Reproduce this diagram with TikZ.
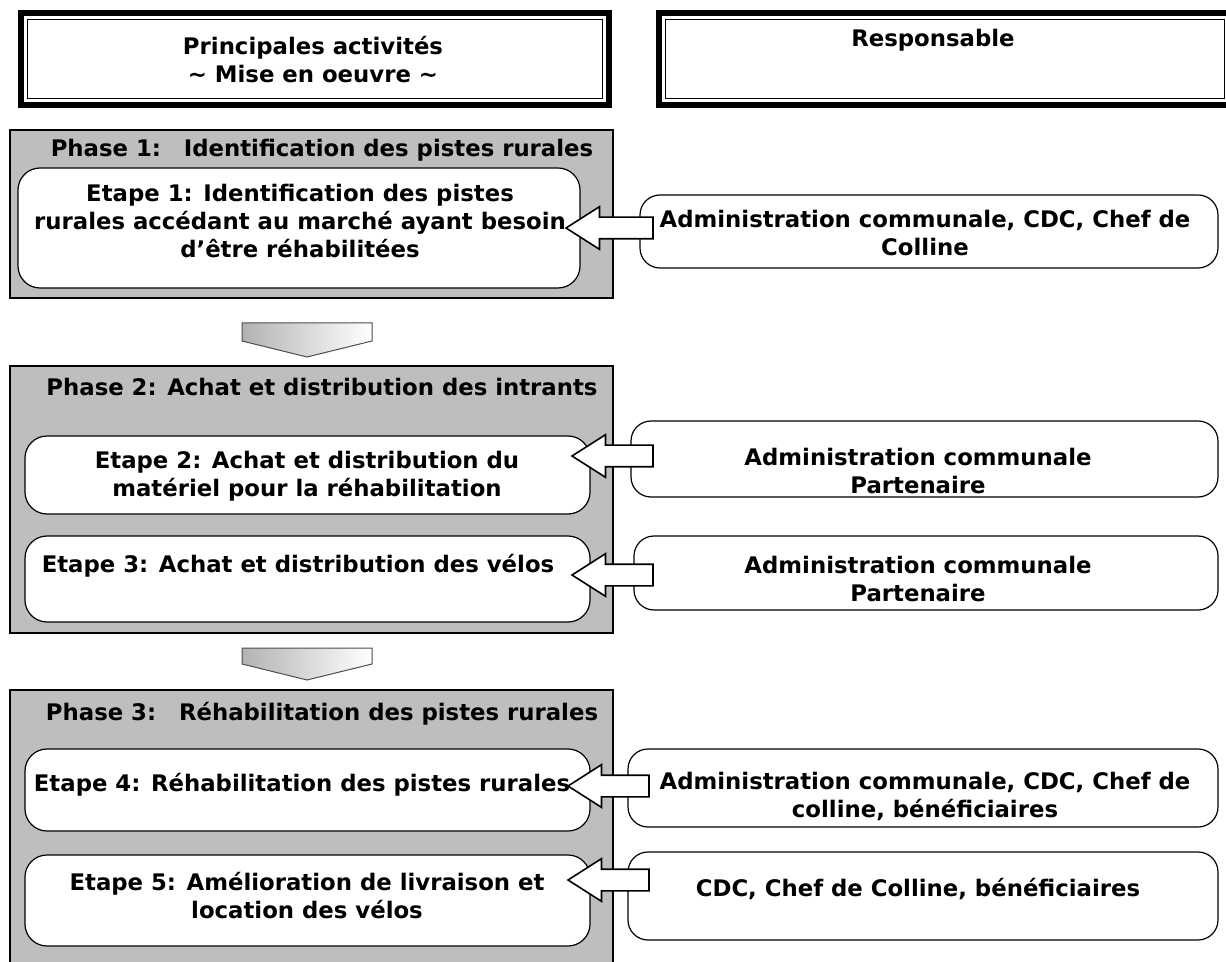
\documentclass[tikz,border=0pt]{standalone}
\usepackage{fontspec}
\setmainfont{DejaVu Sans}
\usepackage{tikz}
\usetikzlibrary{calc,shapes.arrows}
\definecolor{phasecol}{RGB}{190,190,190}
\tikzset{
  hdrbox/.style={draw,line width=3pt,fill=white},
  phasebox/.style={draw,line width=1.2pt,fill=phasecol},
  stepbox/.style={draw,line width=0.6pt,fill=white,rounded corners=11pt},
  respbox/.style={draw,line width=0.6pt,fill=white,rounded corners=10pt},
  txt/.style={font=\bfseries\fontsize{11.4}{14}\selectfont,align=center,inner sep=0pt},
  blockarr/.style={single arrow,draw,fill=white,line width=0.8pt,
    shape border rotate=180,inner xsep=0pt,inner ysep=5pt,
    single arrow head extend=5.25pt,single arrow tip angle=65},
  chevron/.style={draw=black!70,line width=0.5pt,left color=gray!60,right color=white}
}
\begin{document}
\begin{tikzpicture}[x=0.5pt,y=-0.5pt]
  \useasboundingbox (0,0) rectangle (1226,962);
  % headers
  \node[hdrbox,minimum width=294pt,minimum height=46pt] (hl) at (315,59) {};
  \draw[line width=0.6pt] ($(hl.north west)+(9.5,9.5)$) rectangle ($(hl.south east)+(-9.5,-9.5)$);
  \node[txt] (hlt) at (313,60) {Principales activités\\\textasciitilde{} Mise en oeuvre \textasciitilde};
  \node[hdrbox,minimum width=286pt,minimum height=46pt] (hr) at (945,59) {};
  \draw[line width=0.6pt] ($(hr.north west)+(9.5,9.5)$) rectangle ($(hr.south east)+(-9.5,-9.5)$);
  \node[txt] (hrt) at (933,40) {Responsable};

  % phase 1
  \node[phasebox,minimum width=301.5pt,minimum height=84pt] (p1) at (311.5,214) {};
  \node[txt] (p1t) at (322,150) {Phase 1:\quad Identification des pistes rurales};
  \node[stepbox,minimum width=281pt,minimum height=60pt] (e1) at (299,228) {};
  \node[txt] (e1t) at (300,221) {Etape 1: Identification des pistes\\rurales accédant au marché ayant besoin\\d’être réhabilitées};
  \node[respbox,minimum width=289pt,minimum height=36.5pt] (r1) at (929,231.5) {};
  \node[txt] (r1t) at (925,233) {Administration communale, CDC, Chef de\\Colline};
  \node[blockarr,minimum height=43.5pt] (a1) at (618,228) {};

  \shade[chevron] (242,323) -- (372,323) -- (372,341) -- (307,357) -- (242,341) -- cycle;

  % phase 2
  \node[phasebox,minimum width=301.5pt,minimum height=133.5pt] (p2) at (311.5,499.5) {};
  \node[txt] (p2t) at (322,387) {Phase 2: Achat et distribution des intrants};
  \node[stepbox,minimum width=282.5pt,minimum height=39pt] (e2) at (307.5,475) {};
  \node[txt] (e2t) at (307,476) {Etape 2: Achat et distribution du\\matériel pour la réhabilitation};
  \node[stepbox,minimum width=282.5pt,minimum height=43pt] (e3) at (307.5,579) {};
  \node[txt] (e3t) at (298,566) {Etape 3: Achat et distribution des vélos};
  \node[respbox,minimum width=293.5pt,minimum height=38pt] (r2) at (924.5,459) {};
  \node[txt] (r2t) at (918,471) {Administration communale\\Partenaire};
  \node[respbox,minimum width=292pt,minimum height=37pt] (r3) at (926,573) {};
  \node[txt] (r3t) at (918,579) {Administration communale\\Partenaire};
  \node[blockarr,minimum height=40.5pt] (a2) at (621,456) {};
  \node[blockarr,minimum height=40.5pt] (a3) at (621,575) {};

  \shade[chevron] (242,648) -- (372,648) -- (372,664) -- (307,680) -- (242,664) -- cycle;

  % phase 3
  \node[phasebox,minimum width=301.5pt,minimum height=145pt] (p3) at (311.5,835) {};
  \node[txt] (p3t) at (322,714) {Phase 3:\quad Réhabilitation des pistes rurales};
  \node[stepbox,minimum width=282.5pt,minimum height=41pt] (e4) at (307.5,790) {};
  \node[txt] (e4t) at (302,785) {Etape 4: Réhabilitation des pistes rurales};
  \node[stepbox,minimum width=282.5pt,minimum height=45.5pt] (e5) at (307.5,900.5) {};
  \node[txt] (e5t) at (307,896) {Etape 5: Amélioration de livraison et\\location des vélos};
  \node[respbox,minimum width=295pt,minimum height=39pt] (r4) at (923,788) {};
  \node[txt] (r4t) at (925,796) {Administration communale, CDC, Chef de\\colline, bénéficiaires};
  \node[respbox,minimum width=295pt,minimum height=44pt] (r5) at (923,896) {};
  \node[txt] (r5t) at (918,889) {CDC, Chef de Colline, bénéficiaires};
  \node[blockarr,minimum height=40.5pt] (a4) at (617,786) {};
  \node[blockarr,minimum height=40.5pt] (a5) at (617,880) {};
\end{tikzpicture}
\end{document}
